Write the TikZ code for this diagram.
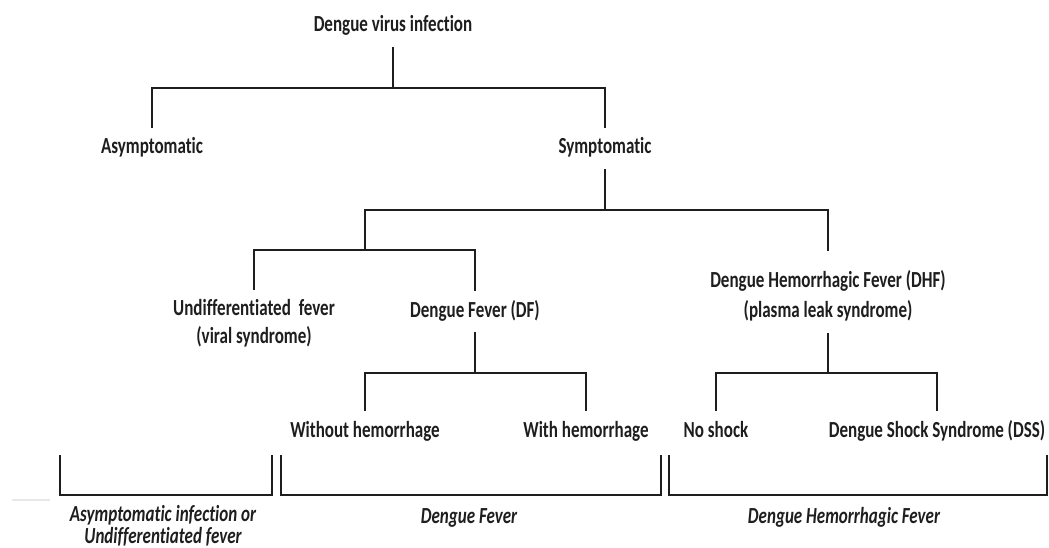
\documentclass[tikz,border=0pt]{standalone}
\usepackage{fontspec}
\newfontfamily\lblfont{Carlito}[FakeStretch=0.74, Ligatures=NoCommon]
\newcommand\twol[3]{\vtop{\baselineskip=#1\lineskiplimit=-\maxdimen\halign{\hfil##\hfil\cr #2\cr #3\cr}}}
\definecolor{ink}{HTML}{1E1E1E}
\tikzset{
  lbl/.style={font=\lblfont\bfseries\fontsize{23}{28}\selectfont, text=ink,
    inner xsep=2pt, inner ysep=11pt, text height=15pt, text depth=4pt, anchor=base},
  ital/.style={lbl, font=\lblfont\bfseries\itshape\fontsize{23}{28}\selectfont},
  conn/.style={draw=ink, line width=2.5pt},
}
\begin{document}
\begin{tikzpicture}[x=1pt,y=-1pt]
\useasboundingbox[fill=white] (0,0) rectangle (1049,548);
% nodes
\node[lbl] (root) at (393,32) {Dengue virus infection};
\node[lbl] (asym) at (152,154) {Asymptomatic};
\node[lbl] (sym) at (605,154) {Symptomatic};
\node[lbl, inner ysep=10pt, text depth=32pt] (undiff) at (254,315)
  {\twol{28pt}{Undifferentiated\hspace{4pt} fever}{(viral syndrome)}};
\node[lbl] (df) at (475,317) {Dengue Fever (DF)};
\node[lbl, text height=25pt, text depth=35pt] (dhf) at (828,287)
  {\twol{30pt}{Dengue Hemorrhagic Fever (DHF)}{(plasma leak syndrome)}};
\node[lbl] (wo) at (365,437) {Without hemorrhage};
\node[lbl] (w) at (586,437) {With hemorrhage};
\node[lbl] (no) at (716,437) {No shock};
\node[lbl] (dss) at (937,437) {Dengue Shock Syndrome (DSS)};
\node[ital] (lab1) at (163,521) {\twol{22pt}{Asymptomatic infection or}{Undifferentiated fever}};
\node[ital] (lab2) at (469,523) {Dengue Fever};
\node[ital] (lab3) at (844,523) {Dengue Hemorrhagic Fever};
% connectors
\coordinate (b1) at (393,88);
\draw[conn] (root.south) -- (b1);
\draw[conn] (asym.north) |- (b1) -| (sym.north);
\coordinate (b2) at (605,210);
\coordinate (b3) at (365,250);
\draw[conn] (sym.south) -- (b2);
\draw[conn] (b3) |- (b2) -| (dhf.north);
\draw[conn] (undiff.north) |- (b3) -| (df.north);
\coordinate (b4) at (475,373);
\draw[conn] (df.south) -- (b4);
\draw[conn] (wo.north) |- (b4) -| (w.north);
\coordinate (b5) at (828,373);
\draw[conn] (dhf.south) -- (b5);
\draw[conn] (no.north) |- (b5) -| (dss.north);
% brackets
\draw[conn] (60,455) |- (272,495) -- (272,455);
\draw[conn] (281,455) |- (661,495) -- (661,455);
\draw[conn] (669,455) |- (1047,495) -- (1047,455);
% faint stub
\draw[gray!18, line width=1.5pt] (12,500) -- (50,500);
\end{tikzpicture}
\end{document}
